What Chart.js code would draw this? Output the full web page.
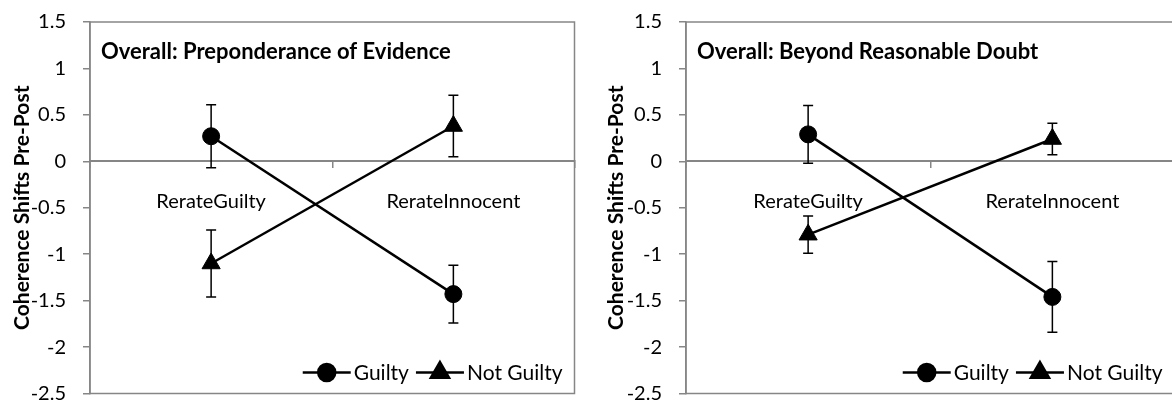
<!DOCTYPE html>
<html>
<head>
<meta charset="utf-8">
<script src="https://cdn.jsdelivr.net/npm/chart.js@4.4.1/dist/chart.umd.min.js"></script>
<style>
  html, body { margin: 0; padding: 0; background: #fff; overflow: hidden; }
  #wrap { position: relative; width: 1172px; height: 405px; overflow: hidden; }
  canvas { position: absolute; top: 0; }
</style>
</head>
<body>
<div id="wrap">
  <canvas id="chartPE" width="586" height="405" style="left:0"></canvas>
  <canvas id="chartBRD" width="600" height="405" style="left:586px"></canvas>
</div>
<script>
// categories and series
const categories = ['RerateGuilty', 'RerateInnocent'];
const seriesNames = ['Guilty', 'Not Guilty'];

// Preponderance of Evidence
const guiltyPE = [0.27, -1.43];
const guiltyErrPE = [0.34, 0.31];
const notGuiltyPE = [-1.10, 0.38];
const notGuiltyErrPE = [0.36, 0.33];

// Beyond Reasonable Doubt
const guiltyBRD = [0.29, -1.46];
const guiltyErrBRD = [0.31, 0.38];
const notGuiltyBRD = [-0.79, 0.24];
const notGuiltyErrBRD = [0.20, 0.17];

// y axis ticks
const yMin = -2.5, yMax = 1.5, yStep = 0.5;

const FONT = 'Lato, "Open Sans", sans-serif';
const GRAY = '#868686';

const plotFrame = {
    id: 'plotFrame',
    beforeDatasetsDraw(chart) {
        const { ctx, chartArea: a } = chart;
        ctx.save();
        ctx.strokeStyle = GRAY;
        ctx.lineWidth = 1.5;
        ctx.strokeRect(a.left, a.top, a.right - a.left, a.bottom - a.top);
        ctx.restore();
    }
};

const errorBars = {
    id: 'errorBars',
    afterDatasetsDraw(chart) {
        const { ctx, scales: { x, y } } = chart;
        ctx.save();
        ctx.strokeStyle = '#000';
        ctx.lineWidth = 1.5;
        chart.data.datasets.forEach(ds => {
            ds.data.forEach((v, j) => {
                const px = x.getPixelForValue(j);
                const top = y.getPixelForValue(v + ds.errors[j]);
                const bot = y.getPixelForValue(v - ds.errors[j]);
                ctx.beginPath();
                ctx.moveTo(px, top); ctx.lineTo(px, bot);
                ctx.moveTo(px - 5, top); ctx.lineTo(px + 5, top);
                ctx.moveTo(px - 5, bot); ctx.lineTo(px + 5, bot);
                ctx.stroke();
            });
        });
        ctx.restore();
    }
};

// title inside the plot, top left
const panelTitle = {
    id: 'panelTitle',
    afterDraw(chart, args, opts) {
        const { ctx, chartArea: a } = chart;
        ctx.save();
        ctx.fillStyle = '#000';
        ctx.font = 'bold 22px ' + FONT;
        ctx.textBaseline = 'middle';
        ctx.fillText(opts.text, a.left + 11, a.top + 30);
        ctx.restore();
    }
};

// legend inside the plot, bottom right, line + marker symbols
const lineLegend = {
    id: 'lineLegend',
    afterDraw(chart) {
        const { ctx, chartArea: a } = chart;
        const symW = 48, gapText = 3, gapItem = 7;
        ctx.save();
        ctx.font = '21px ' + FONT;
        ctx.textBaseline = 'middle';
        const items = chart.data.datasets.map(ds => ({ ds, w: symW + gapText + ctx.measureText(ds.label).width }));
        const total = items.reduce((s, it) => s + it.w, 0) + gapItem * (items.length - 1);
        let xPos = a.right - 12 - total;
        const yPos = a.bottom - 21;
        items.forEach(it => {
            ctx.strokeStyle = '#000';
            ctx.lineWidth = 2.5;
            ctx.beginPath();
            ctx.moveTo(xPos, yPos);
            ctx.lineTo(xPos + symW, yPos);
            ctx.stroke();
            Chart.helpers.drawPoint(ctx, {
                pointStyle: it.ds.pointStyle,
                radius: it.ds.pointRadius,
                borderWidth: 1
            }, xPos + symW / 2, yPos);
            ctx.fillStyle = '#000';
            ctx.fillText(it.ds.label, xPos + symW + gapText, yPos + 1);
            xPos += it.w + gapItem;
        });
        ctx.restore();
    }
};

function makeChart(id, title, guilty, guiltyErr, notGuilty, notGuiltyErr, axisWidth, titleOffset, padRight) {
    return new Chart(document.getElementById(id), {
        type: 'line',
        data: {
            labels: categories,
            datasets: [
                {
                    label: seriesNames[0],
                    data: guilty,
                    errors: guiltyErr,
                    borderColor: '#000',
                    backgroundColor: '#000',
                    borderWidth: 2.5,
                    pointStyle: 'circle',
                    pointRadius: 8.5,
                    pointBorderWidth: 1,
                    tension: 0
                },
                {
                    label: seriesNames[1],
                    data: notGuilty,
                    errors: notGuiltyErr,
                    borderColor: '#000',
                    backgroundColor: '#000',
                    borderWidth: 2.5,
                    pointStyle: 'triangle',
                    pointRadius: 10.5,
                    pointBorderWidth: 1,
                    tension: 0
                }
            ]
        },
        options: {
            responsive: false,
            animation: false,
            layout: { padding: { left: 0, right: padRight, top: 22, bottom: 10 } },
            scales: {
                x: {
                    type: 'category',
                    offset: true,
                    position: { y: 0 },
                    ticks: { color: '#000', font: { size: 20, family: FONT }, padding: 22, maxRotation: 0 },
                    grid: { drawOnChartArea: false, offset: true, tickLength: 6, color: GRAY, lineWidth: 1.5 },
                    border: { color: GRAY, width: 2 }
                },
                y: {
                    min: yMin,
                    max: yMax,
                    ticks: {
                        stepSize: yStep,
                        color: '#000',
                        font: { size: 20, family: FONT },
                        padding: 17,
                        callback: v => String(+v.toFixed(1))
                    },
                    grid: { drawOnChartArea: false, tickLength: 7, color: GRAY, lineWidth: 1.5 },
                    border: { color: GRAY, width: 1.5 },
                    title: {
                        display: true,
                        text: 'Coherence Shifts Pre-Post',
                        color: '#000',
                        font: { size: 21, weight: 'bold', family: FONT },
                        padding: { top: titleOffset, bottom: 0 }
                    },
                    afterFit(scale) {
                        scale.width = axisWidth;
                        scale.paddingTop = 0;
                        scale.paddingBottom = 0;
                    }
                }
            },
            plugins: {
                legend: { display: false },
                tooltip: { enabled: false },
                panelTitle: { text: title }
            }
        },
        plugins: [plotFrame, errorBars, panelTitle, lineLegend]
    });
}

makeChart('chartPE', 'Overall: Preponderance of Evidence',
    guiltyPE, guiltyErrPE, notGuiltyPE, notGuiltyErrPE, 90, 10, 4);
makeChart('chartBRD', 'Overall: Beyond Reasonable Doubt',
    guiltyBRD, guiltyErrBRD, notGuiltyBRD, notGuiltyErrBRD, 100, 18, 10);
</script>
</body>
</html>
